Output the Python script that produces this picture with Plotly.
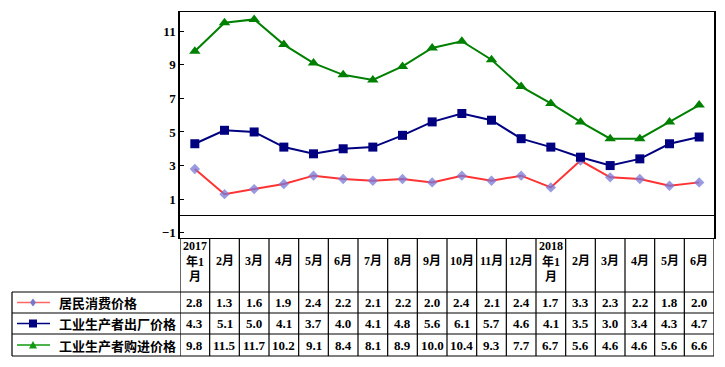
import plotly.graph_objects as go

categories = ["2017<br>年1<br>月", "2月", "3月", "4月", "5月", "6月", "7月", "8月", "9月",
              "10月", "11月", "12月", "2018<br>年1<br>月", "2月", "3月", "4月", "5月", "6月"]
series_names = ["居民消费价格", "工业生产者出厂价格", "工业生产者购进价格"]
cpi = [2.8, 1.3, 1.6, 1.9, 2.4, 2.2, 2.1, 2.2, 2.0, 2.4, 2.1, 2.4, 1.7, 3.3, 2.3, 2.2, 1.8, 2.0]
ppi = [4.3, 5.1, 5.0, 4.1, 3.7, 4.0, 4.1, 4.8, 5.6, 6.1, 5.7, 4.6, 4.1, 3.5, 3.0, 3.4, 4.3, 4.7]
ppirm = [9.8, 11.5, 11.7, 10.2, 9.1, 8.4, 8.1, 8.9, 10.0, 10.4, 9.3, 7.7, 6.7, 5.6, 4.6, 4.6, 5.6, 6.6]
y_ticks = [-1, 1, 3, 5, 7, 9, 11]

OFF = 8  # page body margin of the browser
W, H = 725 - OFF, 367 - OFF
L, R, T, B = 180, 714, 12, 238  # in screen pixels
PW, PH = R - L, B - T

def py(p):
    return (B - p) / PH

def px(p):
    return (p - L) / PW

NUM_FONT = "Liberation Serif, Noto Sans CJK SC, serif"
CJK_FONT = "Noto Sans CJK SC, Liberation Serif, sans-serif"

styles = [
    dict(line=dict(color="#FF3333", width=2),
         marker=dict(symbol="diamond", size=8, color="rgba(120,120,215,0.75)")),
    dict(line=dict(color="#000080", width=2),
         marker=dict(symbol="square", size=9, color="#000080")),
    dict(line=dict(color="#008000", width=2),
         marker=dict(symbol="triangle-up", size=10, color="#008000")),
]
data = [cpi, ppi, ppirm]
xs = list(range(len(categories)))

fig = go.Figure()
for name, vals, st in zip(series_names, data, styles):
    fig.add_trace(go.Scatter(x=xs, y=vals, mode="lines+markers", name=name,
                             line=st["line"], marker=st["marker"], showlegend=False))

shapes = []
annotations = []
n = len(categories)

row_lines = [292, 313, 334, 356]
for rl in row_lines:
    shapes.append(dict(type="line", xref="paper", yref="paper",
                       x0=px(12), x1=1, y0=py(rl), y1=py(rl),
                       line=dict(color="black", width=1.2)))
for i in range(n + 1):
    shapes.append(dict(type="line", xref="x", yref="paper",
                       x0=i - 0.5, x1=i - 0.5, y0=0, y1=py(356),
                       line=dict(color="black", width=1.2)))
shapes.append(dict(type="line", xref="paper", yref="paper",
                   x0=px(12), x1=px(12), y0=py(292), y1=py(356),
                   line=dict(color="black", width=1.2)))

for i, c in enumerate(categories):
    annotations.append(dict(x=i, y=py(261), xref="x", yref="paper", text="<b>%s</b>" % c,
                            showarrow=False, font=dict(family=NUM_FONT, size=12, color="black"),
                            xanchor="center", yanchor="middle"))

row_centers = [302.5, 323.5, 345]
legend_colors = ["#FF6666", "#000080", "#119911"]
marker_colors = ["#7777CC", "#000080", "#119911"]
for r, (name, vals) in enumerate(zip(series_names, data)):
    yc = py(row_centers[r])
    for i, v in enumerate(vals):
        annotations.append(dict(x=i, y=yc, xref="x", yref="paper", text="<b>%.1f</b>" % v,
                                showarrow=False, font=dict(family=NUM_FONT, size=13, color="black"),
                                xanchor="center", yanchor="middle"))
    annotations.append(dict(x=px(57), y=yc, xref="paper", yref="paper", text="<b>%s</b>" % name,
                            showarrow=False, font=dict(family=CJK_FONT, size=13, color="black"),
                            xanchor="left", yanchor="middle"))
    shapes.append(dict(type="line", xref="paper", yref="paper", x0=px(17), x1=px(50),
                       y0=yc, y1=yc, line=dict(color=legend_colors[r], width=1.5)))
    if r == 0:
        path = "M0,4 L3,0 L0,-4 L-3,0 Z"
    elif r == 1:
        path = "M-4,-4 L4,-4 L4,4 L-4,4 Z"
    else:
        path = "M-4,-3.5 L4,-3.5 L0,4 Z"
    shapes.append(dict(type="path", xref="paper", yref="paper", xsizemode="pixel",
                       ysizemode="pixel", xanchor=px(33), yanchor=yc, path=path,
                       fillcolor=marker_colors[r], line=dict(width=0)))

fig.update_layout(
    width=W, height=H,
    margin=dict(l=L - OFF, r=725 - R, t=T - OFF, b=367 - B, pad=0),
    paper_bgcolor="white", plot_bgcolor="white",
    shapes=shapes, annotations=annotations,
    xaxis=dict(range=[-0.5, n - 0.5], showticklabels=False, ticks="", showgrid=False,
               zeroline=False, showline=True, linecolor="black", linewidth=1.2, mirror=True),
    yaxis=dict(range=[-1.31, 12.14], tickvals=y_ticks, ticks="inside", ticklen=4,
               tickcolor="black", showgrid=False, zeroline=True, zerolinecolor="black",
               zerolinewidth=1, showline=True, linecolor="black", linewidth=1.5, mirror=True,
               tickfont=dict(family=NUM_FONT, size=13, color="black", weight="bold")),
)

fig.write_html("out.html")
